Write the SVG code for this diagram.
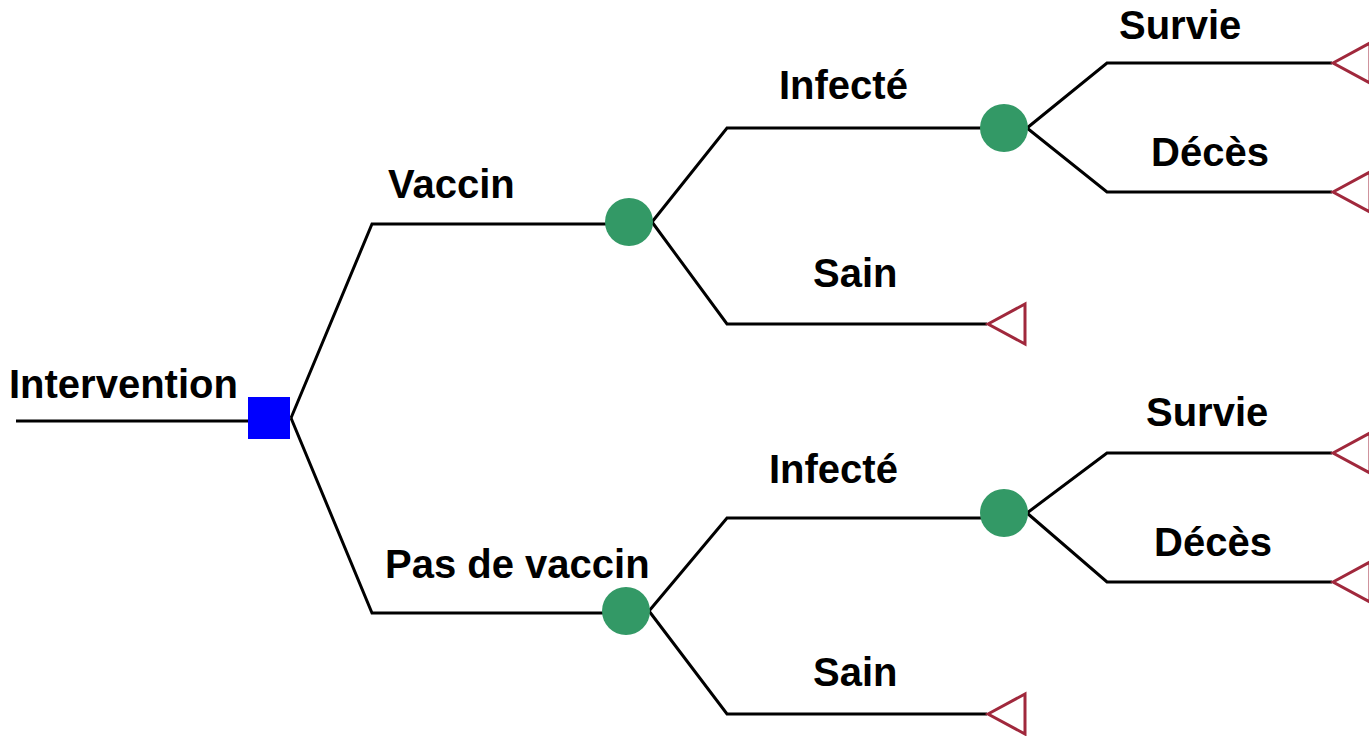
<svg xmlns="http://www.w3.org/2000/svg" width="1369" height="736" viewBox="0 0 1369 736">
<style>
.lbl{font-family:"Liberation Sans",Arial,sans-serif;font-weight:bold;font-size:40px;fill:#000}
.edge{fill:none;stroke:#000;stroke-width:3}
.chance{fill:#339966}
.term{fill:none;stroke:#a0283c;stroke-width:3}
</style>
<rect width="1369" height="736" fill="#fff"/>
<g id="connectors">
<path class="edge" d="M16,421 H248"/>
<path class="edge" d="M291,418 L372,224 H606"/>
<path class="edge" d="M291,418 L372,613 H603"/>
<path class="edge" d="M652,222 L727,128 H981"/>
<path class="edge" d="M652,222 L727,324 H987"/>
<path class="edge" d="M1027,128 L1107,63 H1332"/>
<path class="edge" d="M1027,128 L1107,192 H1332"/>
<path class="edge" d="M649,611 L727,518 H981"/>
<path class="edge" d="M649,611 L727,714 H987"/>
<path class="edge" d="M1027,513 L1107,453 H1332"/>
<path class="edge" d="M1027,513 L1107,582 H1332"/>
</g>
<g id="intervention"><rect x="248" y="397" width="42" height="42" fill="#0000ff"/><text class="lbl" x="9" y="398">Intervention</text></g>
<g id="vaccin"><circle class="chance" cx="629" cy="222" r="24"/><text class="lbl" x="388" y="198">Vaccin</text></g>
<g id="pas-vaccin"><circle class="chance" cx="626" cy="611" r="24"/><text class="lbl" x="385" y="578">Pas de vaccin</text></g>
<g id="infecte1"><circle class="chance" cx="1004" cy="128" r="24"/><text class="lbl" x="779" y="99">Infecté</text></g>
<g id="sain1"><polygon class="term" points="988,324 1025,304 1025,344"/><text class="lbl" x="813" y="287">Sain</text></g>
<g id="survie1"><polygon class="term" points="1333,63 1370,43 1370,83"/><text class="lbl" x="1119" y="39">Survie</text></g>
<g id="deces1"><polygon class="term" points="1333,192 1370,172 1370,212"/><text class="lbl" x="1151" y="166">Décès</text></g>
<g id="infecte2"><circle class="chance" cx="1004" cy="513" r="24"/><text class="lbl" x="769" y="483">Infecté</text></g>
<g id="sain2"><polygon class="term" points="988,714 1025,694 1025,734"/><text class="lbl" x="813" y="686">Sain</text></g>
<g id="survie2"><polygon class="term" points="1333,453 1370,433 1370,473"/><text class="lbl" x="1146" y="426">Survie</text></g>
<g id="deces2"><polygon class="term" points="1333,582 1370,562 1370,602"/><text class="lbl" x="1154" y="556">Décès</text></g>
</svg>
